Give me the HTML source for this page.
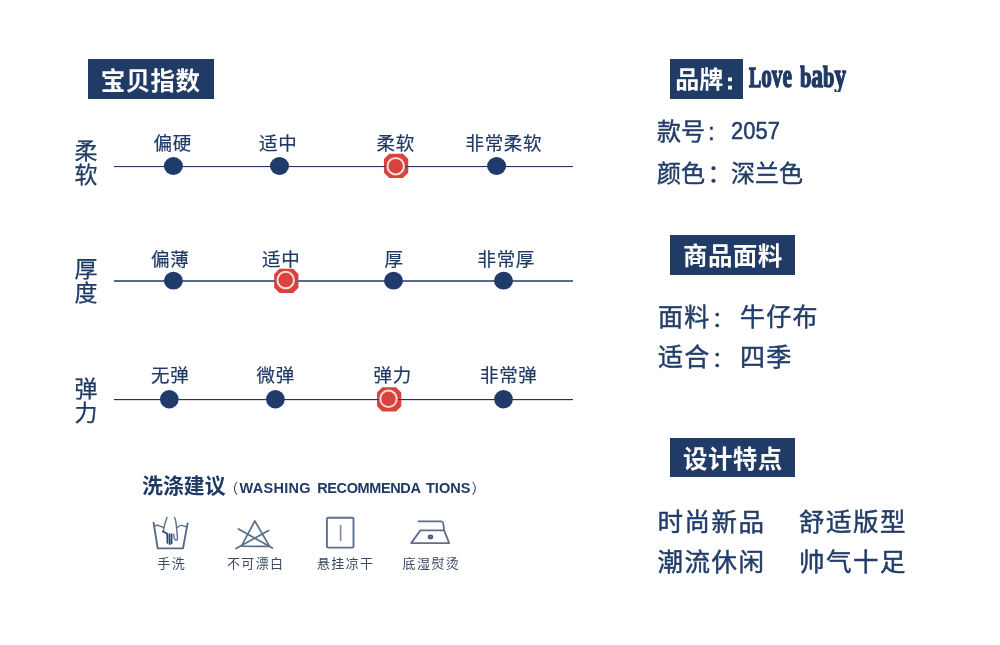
<!DOCTYPE html>
<html lang="zh-CN">
<head>
<meta charset="utf-8">
<title>宝贝指数</title>
<style>
html,body{margin:0;padding:0;background:#fff;}
body{width:1000px;height:645px;position:relative;overflow:hidden;
  font-family:"Liberation Sans","Noto Sans CJK SC",sans-serif;color:#1f3a64;}
.abs{position:absolute;white-space:nowrap;}
.tag{position:absolute;background:#203b66;color:#fdfdfd;font-weight:bold;font-size:24.5px;letter-spacing:0.4px;
  text-align:left;white-space:nowrap;box-sizing:border-box;height:39.5px;line-height:44px;overflow:hidden;}
.rowlab{position:absolute;left:74px;width:24px;font-size:23px;line-height:24px;text-align:center;-webkit-text-stroke:0.25px #1f3a64;}
.lab{position:absolute;font-size:18.5px;letter-spacing:0.6px;line-height:20px;white-space:nowrap;margin-left:-0.4px;-webkit-text-stroke:0.2px #1f3a64;}
.wlab{position:absolute;font-size:13px;letter-spacing:1.4px;text-indent:1.4px;line-height:16px;width:80px;text-align:center;color:#3b4963;white-space:nowrap;}
.info{position:absolute;white-space:nowrap;color:#223d68;-webkit-text-stroke:0.45px #223d68;}
.love{top:56px;font-family:"Liberation Serif",serif;font-weight:bold;font-size:29px;line-height:40px;transform-origin:0 0;-webkit-text-stroke:1.5px #1f3a64;}
.love i{font-style:normal;font-size:33.5px;}
.lv{font-size:33.5px;}
.lv::first-letter{font-size:29px;}
.en{top:472.5px;font-size:14.5px;line-height:30px;font-weight:bold;}
</style>
</head>
<body>

<!-- left heading -->
<div class="tag" style="left:88px;top:59px;width:126px;padding-left:12.8px;line-height:45.4px;">宝贝指数</div>

<svg class="abs" style="left:0;top:0;" width="1000" height="645" viewBox="0 0 1000 645">
  <rect x="114" y="166" width="459" height="1" fill="#2a3368"/>
  <rect x="114" y="167" width="459" height="1" fill="rgba(60,90,160,0.12)"/>
  <ellipse cx="173.4" cy="166" rx="9.5" ry="8.95" fill="#1f3a6b"/>
  <ellipse cx="279.5" cy="166" rx="9.5" ry="8.95" fill="#1f3a6b"/>
  <ellipse cx="496.6" cy="166" rx="9.5" ry="8.95" fill="#1f3a6b"/>
  <polygon points="389.70,154.70 402.50,154.70 407.25,159.45 407.25,172.25 402.50,177.00 389.70,177.00 384.95,172.25 384.95,159.45" fill="#d8423f" stroke="#d8423f" stroke-width="2" stroke-linejoin="round"/>
  <rect x="384.1" y="166" width="24" height="1" fill="#2a3368" opacity="0.85"/>
  <circle cx="395.7" cy="166.15" r="8.25" fill="#d8423f" stroke="#f9dcd8" stroke-width="2"/>
  <rect x="114" y="280" width="459" height="2" fill="#5a6a8d"/>
  <ellipse cx="173.4" cy="280.7" rx="9.5" ry="8.9" fill="#1f3a6b"/>
  <ellipse cx="393.5" cy="280.7" rx="9.5" ry="8.9" fill="#1f3a6b"/>
  <ellipse cx="503.5" cy="280.7" rx="9.5" ry="8.9" fill="#1f3a6b"/>
  <polygon points="279.90,269.70 292.70,269.70 297.45,274.45 297.45,287.25 292.70,292.00 279.90,292.00 275.15,287.25 275.15,274.45" fill="#d8423f" stroke="#d8423f" stroke-width="2" stroke-linejoin="round"/>
  <rect x="274.3" y="280" width="24" height="2" fill="#5a6a8d" opacity="0.85"/>
  <circle cx="285.7" cy="280.1" r="8.25" fill="#d8423f" stroke="#f9dcd8" stroke-width="2"/>
  <rect x="114" y="399" width="459" height="1" fill="#1f3560"/>
  <rect x="114" y="400" width="459" height="1" fill="rgba(40,40,60,0.15)"/>
  <ellipse cx="169.3" cy="399.2" rx="9.35" ry="9.2" fill="#1f3a6b"/>
  <ellipse cx="275.4" cy="399.2" rx="9.35" ry="9.2" fill="#1f3a6b"/>
  <ellipse cx="503.5" cy="399.2" rx="9.35" ry="9.2" fill="#1f3a6b"/>
  <polygon points="382.75,388.15 395.55,388.15 400.30,392.90 400.30,405.70 395.55,410.45 382.75,410.45 378.00,405.70 378.00,392.90" fill="#d8423f" stroke="#d8423f" stroke-width="2" stroke-linejoin="round"/>
  <rect x="377.15" y="399" width="24" height="1" fill="#1f3560" opacity="0.85"/>
  <circle cx="388.5" cy="398.8" r="8.25" fill="#d8423f" stroke="#f9dcd8" stroke-width="2"/>
</svg>
<!-- row 1 -->
<div class="rowlab" style="top:139px;">柔<br>软</div>
<div class="lab" style="left:154px;top:134px;">偏硬</div>
<div class="lab" style="left:259.5px;top:134px;">适中</div>
<div class="lab" style="left:377px;top:134px;">柔软</div>
<div class="lab" style="left:466px;top:134px;">非常柔软</div>

<!-- row 2 -->
<div class="rowlab" style="top:257px;">厚<br>度</div>
<div class="lab" style="left:151.5px;top:250px;">偏薄</div>
<div class="lab" style="left:262.5px;top:250px;">适中</div>
<div class="lab" style="left:385px;top:250px;">厚</div>
<div class="lab" style="left:478px;top:250px;">非常厚</div>

<!-- row 3 -->
<div class="rowlab" style="top:377px;">弹<br>力</div>
<div class="lab" style="left:151.5px;top:366px;">无弹</div>
<div class="lab" style="left:257px;top:366px;">微弹</div>
<div class="lab" style="left:374px;top:366px;">弹力</div>
<div class="lab" style="left:480.5px;top:366px;">非常弹</div>

<!-- washing -->
<div class="abs" style="left:142px;top:471px;font-size:20.9px;line-height:30px;font-weight:bold;">洗涤建议</div>
<div aria-label="（WASHING RECOMMENDA TIONS）">
<div class="abs" id="lp" style="left:224.3px;top:473px;font-size:14px;line-height:30px;font-weight:normal;">（</div>
<div class="abs en" id="en1" style="left:239.6px;letter-spacing:0.27px;">WASHING</div>
<div class="abs en" id="en2" style="left:317.2px;letter-spacing:-0.38px;">RECOMMENDA</div>
<div class="abs en" id="en3" style="left:425.9px;letter-spacing:0.05px;">TIONS</div>
<div class="abs" id="rp" style="left:471.6px;top:473px;font-size:14px;line-height:30px;font-weight:normal;">）</div>
</div>

<svg class="abs" style="left:145px;top:510px;" width="320" height="45" viewBox="145 510 320 45" fill="none" stroke="#5d6f8c" stroke-width="1.7" stroke-linecap="round" stroke-linejoin="round">
  <!-- hand wash -->
  <path d="M153.6 522.8 L157.7 548.4 L183 548.4 L187.6 523.4" stroke="#586a88" stroke-width="1.9"/>
  <path d="M154.4 526.4 Q157 524.6 159.5 525.8 T163.8 527.6 M177.3 527.4 Q180 524.8 182.6 525.6 T187 526.9" stroke-width="1.4"/>
  <path d="M167.1 517.3 Q164.8 523 163.9 528 L163.6 530.6 M174.5 517.5 Q176 520 176.2 524 L177.5 538 Q177.6 540.4 175.6 540 Q174 539.4 173.8 534.2" stroke-width="1.4"/>
  <path d="M162.8 531.4 L166.4 533.2 M167.2 533.6 L167.4 543 M169.4 534 L169.6 544.2 M171.6 534 L171.6 543.4" stroke="#2b4573" stroke-width="1.7"/>
  <!-- no bleach -->
  <path d="M254.8 521 L241.4 546.2 L269.6 546.4 Z"/>
  <path d="M238.4 528.9 L272.4 548 M268.7 530.4 L236 548.6"/>
  <!-- hang dry -->
  <rect x="326.9" y="517.7" width="26.6" height="29.9" rx="1.2" stroke-width="1.9"/>
  <path d="M340.6 525.6 L340.6 540.4" stroke="#7f88a6" stroke-width="1.6"/>
  <!-- iron -->
  <path d="M418.6 521.4 L441.2 521.4 Q443 521.6 443.3 523.6 L444.1 530.4 L449.2 543.1 L411.2 543.1 L420.4 530.4 L444.1 530.4" stroke-width="1.8"/>
  <ellipse cx="430.5" cy="536.9" rx="1.9" ry="1.6" fill="#7d8aa3" stroke="#44567a" stroke-width="1.6"/>
</svg>
<div class="wlab" style="left:131px;top:556px;">手洗</div>
<div class="wlab" style="left:215px;top:556px;">不可漂白</div>
<div class="wlab" style="left:305px;top:556px;">悬挂凉干</div>
<div class="wlab" style="left:390.7px;top:556px;">底湿熨烫</div>

<!-- right column -->
<div class="tag" style="left:670px;top:59px;width:73px;padding-left:5.2px;font-size:24px;letter-spacing:0;line-height:41px;">品牌<span style="font-size:21px;margin-left:3.4px;position:relative;top:0.6px;-webkit-text-stroke:0.9px #fdfdfd;">:</span></div>
<div aria-label="Love baby">
<div class="abs love lv" id="lv" style="left:749px;transform:scaleX(0.632);">Love</div>
<div class="abs love" id="bb" style="left:800.3px;transform:scaleX(0.703);height:36px;overflow:hidden;">b<i>a</i>b<i>y</i></div>
</div>

<div class="info" style="left:657px;top:116px;font-size:24px;line-height:32px;">款号<span style="margin-left:3px;">:</span></div>
<div class="info" id="num" style="left:731.2px;top:115.4px;font-size:24.4px;line-height:32px;transform-origin:0 0;transform:scaleX(0.9);-webkit-text-stroke:0.5px #24406b;">2057</div>
<div class="info" style="left:657px;top:158px;font-size:24px;line-height:32px;">颜色<span style="margin-left:2.5px;">：</span></div>
<div class="info" style="left:731px;top:158px;font-size:24px;line-height:32px;">深兰色</div>

<div class="tag" style="left:670px;top:235px;width:125px;padding-left:13px;">商品面料</div>
<div class="info" style="left:658px;top:298.5px;font-size:25px;letter-spacing:1.3px;line-height:36px;">面料<span style="font-size:21px;margin-left:1.5px;position:relative;top:0.5px;">：</span></div>
<div class="info" style="left:740px;top:298.5px;font-size:25px;letter-spacing:1.3px;line-height:36px;">牛仔布</div>
<div class="info" style="left:658px;top:338.5px;font-size:25px;letter-spacing:1.3px;line-height:36px;">适合<span style="font-size:21px;margin-left:1.5px;position:relative;top:0.5px;">：</span></div>
<div class="info" style="left:740px;top:338.5px;font-size:25px;letter-spacing:1.3px;line-height:36px;">四季</div>

<div class="tag" style="left:670px;top:438px;width:125px;height:38.8px;padding-left:13px;">设计特点</div>
<div class="info" style="left:657.5px;top:504px;font-size:25.5px;letter-spacing:1.5px;line-height:36px;">时尚新品</div>
<div class="info" style="left:799px;top:504px;font-size:25.5px;letter-spacing:1.5px;line-height:36px;">舒适版型</div>
<div class="info" style="left:657.5px;top:544px;font-size:25.5px;letter-spacing:1.5px;line-height:36px;">潮流休闲</div>
<div class="info" style="left:799px;top:544px;font-size:25.5px;letter-spacing:1.5px;line-height:36px;">帅气十足</div>

</body>
</html>
